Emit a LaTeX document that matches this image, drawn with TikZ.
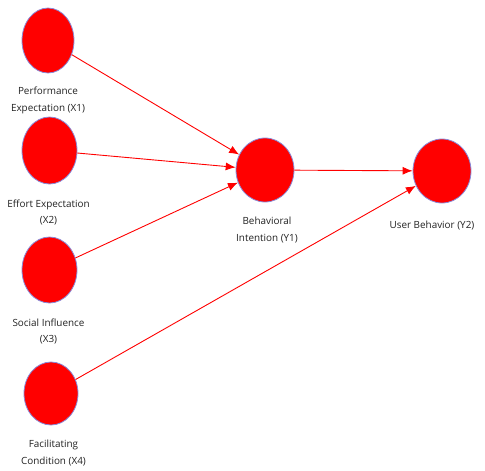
\documentclass[tikz,border=0pt]{standalone}
\usepackage{fontspec}
\setmainfont{Open Sans}
\usetikzlibrary{arrows.meta,shapes.geometric}
\definecolor{lv}{HTML}{FF0000}
\definecolor{rim}{HTML}{8A8AD8}
\definecolor{txt}{HTML}{222222}
\begin{document}
\begin{tikzpicture}[x=1pt,y=-1pt,
  lvnode/.style 2 args={ellipse,draw=rim,line width=0.8pt,fill=lv,minimum width=#1,minimum height=#2,inner sep=0pt},
  lab/.style={align=center,text=txt,font=\fontsize{9.9}{16.5}\selectfont,inner sep=0pt},
  conn/.style={draw=lv,line width=0.9pt,-{Latex[length=10pt,width=8pt]}}]
\useasboundingbox (0,0) rectangle (485,471);
\node[lvnode={52pt}{65pt}] (x1) at (48,40.5) {};
\node[lvnode={55pt}{67pt}] (x2) at (49.5,150.5) {};
\node[lvnode={55pt}{66pt}] (x3) at (49.5,270) {};
\node[lvnode={54pt}{63pt}] (x4) at (51,393.5) {};
\node[lvnode={58pt}{64pt}] (y1) at (265,170) {};
\node[lvnode={58pt}{64pt}] (y2) at (442,171) {};
\node[lab] (lx1) at (48,100.5) {Performance\\Expectation (X1)};
\node[lab] (lx2) at (48.5,212.5) {Effort Expectation\\(X2)};
\node[lab] (lx3) at (48.5,331.5) {Social Influence\\(X3)};
\node[lab] (lx4) at (53.5,453) {Facilitating\\Condition (X4)};
\node[lab] (ly1) at (267,230) {Behavioral\\Intention (Y1)};
\node[lab] (ly2) at (432,226) {User Behavior (Y2)};
\draw[conn] (x1) -- (y1);
\draw[conn] (x2) -- (y1);
\draw[conn] (x3) -- (y1);
\draw[conn] (y1) -- (y2);
\draw[conn] (x4) -- (y2);
\end{tikzpicture}
\end{document}
